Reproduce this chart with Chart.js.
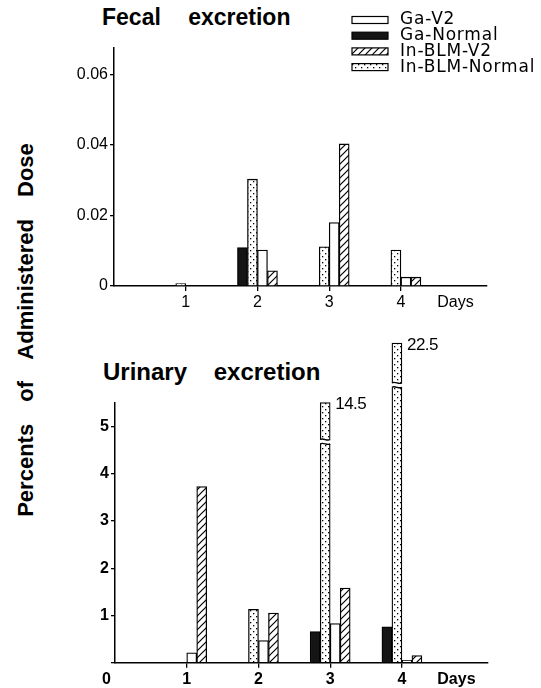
<!DOCTYPE html>
<html>

<head>
  <meta charset="utf-8">
  <script src="https://cdn.jsdelivr.net/npm/chart.js@4.4.1/dist/chart.umd.min.js"></script>
  <style>
    body { margin: 0; background: #fff; width: 541px; height: 688px; position: relative; overflow: hidden;
      font-family: 'Liberation Sans', Arial, sans-serif; color: #000; }
    canvas { position: absolute; left: 0; }
    .title { position: absolute; font-weight: bold; line-height: 1; white-space: nowrap; }
    #yTitle { position: absolute; left: 26px; top: 330px; font-weight: bold; font-size: 22px; line-height: 1;
      word-spacing: 16px; white-space: nowrap; transform: translate(-50%, -50%) rotate(-90deg); }
  </style>
</head>

<body>
  <div class="title" style="left:102px; top:6px; font-size:23px; word-spacing:21px;">Fecal excretion</div>
  <div class="title" style="left:103px; top:360px; font-size:24px; word-spacing:20px;">Urinary excretion</div>
  <div id="yTitle">Percents of Administered Dose</div>

  <canvas id="fecal" width="541" height="320" style="top:0"></canvas>
  <canvas id="urinary" width="541" height="358" style="top:330px"></canvas>

  <script type="text/javascript">
    // data (percent of administered dose)
    var days = [1, 2, 3, 4];

    var fecalGaV2 = [null, 0.0102, 0.018, 0.0025];
    var fecalGaNormal = [null, 0.0109, null, null];
    var fecalInV2 = [null, 0.0043, 0.0403, 0.0025];
    var fecalInNormal = [0.0007, 0.0303, 0.0111, 0.0102];

    var urinaryGaV2 = [0.21, 0.47, 0.83, 0.05];
    var urinaryGaNormal = [null, null, 0.66, 0.76];
    var urinaryInV2 = [3.73, 1.05, 1.58, 0.15];
    var urinaryInNormal = [null, 1.13, 14.5, 22.5];
    // broken bars: where the bar is cut off, and where the break is drawn
    var urinaryCutTop = [null, null, 5.51, 6.77];
    var urinaryBreakAt = [null, null, 4.68, 5.88];

    var fecalTicks = [0, 0.02, 0.04, 0.06];
    var fecalTickLabels = ['0', '0.02', '0.04', '0.06'];
    var urinaryTicks = [0, 1, 2, 3, 4, 5];
    var urinaryTickLabels = ['', '1', '2', '3', '4', '5'];
    var fecalXTicks = [1, 2, 3, 4, 4.76];
    var fecalXLabels = ['1', '2', '3', '4', 'Days'];
    var urinaryXTicks = [-0.12, 1, 2, 3, 4, 4.76];
    var urinaryXLabels = ['0', '1', '2', '3', '4', 'Days'];

    var legendNames = ['Ga-V2', 'Ga-Normal', 'In-BLM-V2', 'In-BLM-Normal'];

    // fills
    function hatchPattern() {
      var c = document.createElement('canvas');
      c.width = c.height = 7;
      var g = c.getContext('2d');
      g.fillStyle = '#fff';
      g.fillRect(0, 0, 7, 7);
      g.strokeStyle = '#000';
      g.lineWidth = 1.2;
      g.beginPath();
      g.moveTo(-1, 8); g.lineTo(8, -1);
      g.moveTo(-1, 1); g.lineTo(1, -1);
      g.moveTo(6, 8); g.lineTo(8, 6);
      g.stroke();
      return g.createPattern(c, 'repeat');
    }

    function dotPattern() {
      var c = document.createElement('canvas');
      c.width = c.height = 6;
      var g = c.getContext('2d');
      g.fillStyle = '#fff';
      g.fillRect(0, 0, 6, 6);
      g.fillStyle = '#000';
      g.fillRect(1, 1, 1.3, 1.3);
      g.fillRect(4, 4, 1.3, 1.3);
      return g.createPattern(c, 'repeat');
    }

    var fills = {
      'Ga-V2': '#fff',
      'Ga-Normal': '#151515',
      'In-BLM-V2': hatchPattern(),
      'In-BLM-Normal': dotPattern()
    };

    function points(arr) {
      return days.map(function(d, i) { return { x: d, y: arr[i] }; });
    }

    function dataset(name, arr) {
      return {
        label: name,
        data: points(arr),
        backgroundColor: fills[name],
        borderColor: '#000',
        borderWidth: 1.3,
        barThickness: 10,
        clip: false
      };
    }

    var legendPlugin = {
      id: 'boxLegend',
      afterDraw: function(chart) {
        var ctx = chart.ctx;
        ctx.save();
        ctx.font = '17px "DejaVu Sans"';
        ctx.letterSpacing = '0.8px';
        ctx.textBaseline = 'middle';
        legendNames.forEach(function(name, i) {
          var y = 20 + i * 15.7;
          ctx.fillStyle = fills[name];
          ctx.fillRect(352, y - 3.5, 36, 7);
          ctx.strokeStyle = '#000';
          ctx.lineWidth = 1.2;
          ctx.strokeRect(352, y - 3.5, 36, 7);
          ctx.fillStyle = '#000';
          ctx.fillText(name, 400, y);
        });
        ctx.restore();
      }
    };

    // white break across the cut bars + the true value next to them
    var breakPlugin = {
      id: 'barBreak',
      afterDatasetsDraw: function(chart) {
        var ctx = chart.ctx;
        var yScale = chart.scales.y;
        var meta = chart.getDatasetMeta(1);
        ctx.save();
        urinaryBreakAt.forEach(function(b, i) {
          if (b === null) return;
          var bar = meta.data[i];
          var left = bar.x - bar.width / 2, right = bar.x + bar.width / 2;
          var yb = yScale.getPixelForValue(b);
          ctx.fillStyle = '#fff';
          ctx.fillRect(left - 2, yb - 2.2, bar.width + 4, 4.4);
          ctx.strokeStyle = '#000';
          ctx.lineWidth = 1.3;
          [yb - 2.2, yb + 2.2].forEach(function(y) {
            ctx.beginPath();
            ctx.moveTo(left, y);
            ctx.bezierCurveTo(left + bar.width / 3, y - 2, left + bar.width * 2 / 3, y + 2, right, y);
            ctx.stroke();
          });
          ctx.fillStyle = '#000';
          ctx.font = '17px "Liberation Sans"';
          ctx.letterSpacing = '-0.5px';
          ctx.textBaseline = 'middle';
          ctx.fillText(String(urinaryInNormal[i]), right + 5, bar.y + 2);
        });
        ctx.restore();
      }
    };

    function makeChart(id, sets, yOpts, xTicks, xLabels, layout, xHeight, bold) {
      var font = { family: 'Liberation Sans', size: 16, weight: bold ? 'bold' : 'normal' };
      return new Chart(document.getElementById(id), {
        type: 'bar',
        data: { datasets: sets },
        plugins: id === 'fecal' ? [legendPlugin] : [breakPlugin],
        options: {
          responsive: false,
          devicePixelRatio: 1,
          animation: false,
          layout: { padding: layout },
          plugins: { legend: { display: false }, tooltip: { enabled: false } },
          scales: {
            x: {
              type: 'linear',
              min: 0,
              max: 5.2,
              offset: false,
              afterBuildTicks: function(s) { s.ticks = xTicks.map(function(v) { return { value: v }; }); },
              afterFit: function(s) { s.height = xHeight; },
              ticks: {
                autoSkip: false, maxRotation: 0, padding: 2, color: '#000', font: font,
                callback: function(v, i) { return xLabels[i]; }
              },
              grid: {
                offset: false, drawOnChartArea: false, tickLength: 5, lineWidth: 1.3,
                tickColor: function(c) { return (c.tick && days.indexOf(c.tick.value) >= 0) ? '#000' : 'rgba(0,0,0,0)'; }
              },
              border: { color: '#000', width: 1.5 }
            },
            y: {
              min: 0,
              max: yOpts.max,
              afterBuildTicks: function(s) { s.ticks = yOpts.ticks.map(function(v) { return { value: v }; }); },
              afterFit: function(s) { s.width = yOpts.width; },
              ticks: {
                padding: 2, color: '#000', font: font,
                callback: function(v, i) { return yOpts.labels[i]; }
              },
              grid: { drawOnChartArea: false, tickLength: 4, lineWidth: 1.3, tickColor: '#000' },
              border: { color: '#000', width: 1.5 }
            }
          }
        }
      });
    }

    makeChart('fecal', [
      dataset('Ga-Normal', fecalGaNormal),
      dataset('In-BLM-Normal', fecalInNormal),
      dataset('Ga-V2', fecalGaV2),
      dataset('In-BLM-V2', fecalInV2)
    ], { max: 0.0675, ticks: fecalTicks, labels: fecalTickLabels, width: 114 },
      fecalXTicks, fecalXLabels, { left: 0, right: 54, top: 48, bottom: 0 }, 34, false);

    var urinaryInNormalShown = urinaryInNormal.map(function(v, i) {
      return urinaryCutTop[i] !== null ? urinaryCutTop[i] : v;
    });

    makeChart('urinary', [
      dataset('Ga-Normal', urinaryGaNormal),
      dataset('In-BLM-Normal', urinaryInNormalShown),
      dataset('Ga-V2', urinaryGaV2),
      dataset('In-BLM-V2', urinaryInV2)
    ], { max: 5.5, ticks: urinaryTicks, labels: urinaryTickLabels, width: 115 },
      urinaryXTicks, urinaryXLabels, { left: 0, right: 53, top: 73, bottom: 0 }, 25.3, true);
  </script>
</body>

</html>
